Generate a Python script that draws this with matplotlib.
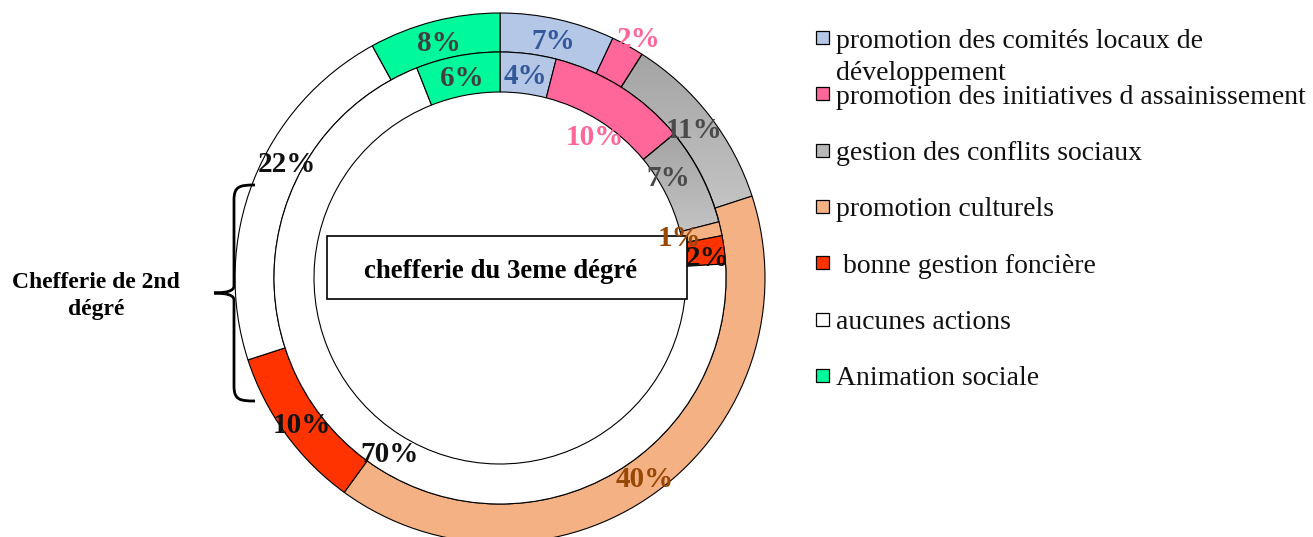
import numpy as np
import matplotlib
matplotlib.use("Agg")
import matplotlib.pyplot as plt
from matplotlib.patches import Rectangle
from matplotlib.path import Path
from matplotlib.patches import PathPatch

plt.rcParams['font.family'] = ['Liberation Serif', 'DejaVu Serif']

# data (clockwise from 12 o'clock)
categories = ["promotion des comités locaux de\ndéveloppement",
              "promotion des initiatives d assainissement",
              "gestion des conflits sociaux",
              "promotion culturels",
              " bonne gestion foncière",
              "aucunes actions",
              "Animation sociale"]
second_degree = [7, 2, 11, 40, 10, 22, 8]   # outer ring
third_degree = [4, 10, 7, 1, 2, 70, 6]      # inner ring

colors = ["#B4C7E7", "#FF6699", "#B8B8B8", "#F4B183", "#FF3300", "#FFFFFF", "#00F99A"]
label_colors = ["#34589A", "#FF6699", "#4A4A4A", "#974806", "#111111", "#111111", "#404040"]

W, H = 1313, 537
fig = plt.figure(figsize=(W / 100, H / 100), dpi=100)
ax = fig.add_axes([0, 0, 1, 1])

cx, cy = 500, 278
r_out, r_mid, r_in = 265, 226, 186

# y axis is inverted (pixel-like coords), so counterclock=True runs clockwise on screen
wedges_out, _ = ax.pie(second_degree, colors=colors, radius=r_out, center=(cx, cy),
                       startangle=-90, counterclock=True,
                       wedgeprops=dict(width=r_out - r_mid, edgecolor="black", linewidth=0.8))
wedges_in, _ = ax.pie(third_degree, colors=colors, radius=r_mid, center=(cx, cy),
                      startangle=-90, counterclock=True,
                      wedgeprops=dict(width=r_mid - r_in, edgecolor="black", linewidth=0.8))

# gray wedges get a vertical gradient like the original
grad = np.linspace(0, 1, 256).reshape(-1, 1)
gray_cmap = matplotlib.colors.LinearSegmentedColormap.from_list("g", ["#A4A4A4", "#D2D2D2"])
for w in (wedges_out[2], wedges_in[2]):
    v = w.get_path().vertices
    im = ax.imshow(grad, cmap=gray_cmap, aspect="auto", zorder=0.5,
                   extent=(v[:, 0].min(), v[:, 0].max(), v[:, 1].max(), v[:, 1].min()))
    im.set_clip_path(w)
    w.set_facecolor("none")

# label nudges: (index, radius override, angle shift in degrees)
out_adj = {1: (278, 1.0), 5: (243, 7.0)}
in_adj = {1: (172, 1.2), 2: (197, -4.5), 3: (185, -0.8), 4: (209, 0.9)}


def put_labels(wedges, values, r_lab, adj):
    for i, (w, val) in enumerate(zip(wedges, values)):
        ang = (w.theta1 + w.theta2) / 2
        r = r_lab
        if i in adj:
            r, da = adj[i]
            ang += da
        x = cx + r * np.cos(np.radians(ang))
        y = cy + r * np.sin(np.radians(ang))
        ax.text(x, y, f"{val}%", ha="center", va="center_baseline", fontsize=21,
                fontweight="bold", color=label_colors[i], zorder=5)


put_labels(wedges_out, second_degree, (r_out + r_mid) / 2, out_adj)
put_labels(wedges_in, third_degree, (r_mid + r_in) / 2, in_adj)

# center box
ax.add_patch(Rectangle((327, 236), 360, 63, facecolor="white", edgecolor="black",
                       linewidth=1.2, zorder=4))
ax.text(501, 268, "chefferie du 3eme dégré", ha="center", va="center_baseline",
        fontsize=19.3, fontweight="bold", zorder=6)

# brace + side label
verts = [(255, 185), (240, 185), (234, 186), (234, 200),
         (234, 286), (234, 293), (214, 293),
         (234, 293), (234, 300), (234, 386),
         (234, 400), (240, 401), (255, 401)]
codes = [Path.MOVETO, Path.CURVE4, Path.CURVE4, Path.CURVE4,
         Path.LINETO, Path.CURVE3, Path.CURVE3,
         Path.CURVE3, Path.CURVE3, Path.LINETO,
         Path.CURVE4, Path.CURVE4, Path.CURVE4]
ax.add_patch(PathPatch(Path(verts, codes), facecolor="none", edgecolor="black",
                       linewidth=2.0, zorder=6))
for k, line in enumerate(["Chefferie de 2nd", "dégré"]):
    ax.text(96, 280 + k * 27, line, ha="center", va="center_baseline", fontsize=17,
            fontweight="bold")

# legend
leg_y0, leg_dy = 38, 56.3
for i, (lab, col) in enumerate(zip(categories, colors)):
    y = leg_y0 + i * leg_dy
    ax.add_patch(Rectangle((816, y - 7), 13, 13, facecolor=col, edgecolor="black",
                           linewidth=0.9, zorder=5))
    for k, line in enumerate(lab.split("\n")):
        ax.text(836, y + k * 33, line, ha="left", va="center_baseline", fontsize=20,
                color="#111111")

ax.set_xlim(0, W)
ax.set_ylim(H, 0)
ax.axis("off")

fig.savefig("out.png", dpi=100)
